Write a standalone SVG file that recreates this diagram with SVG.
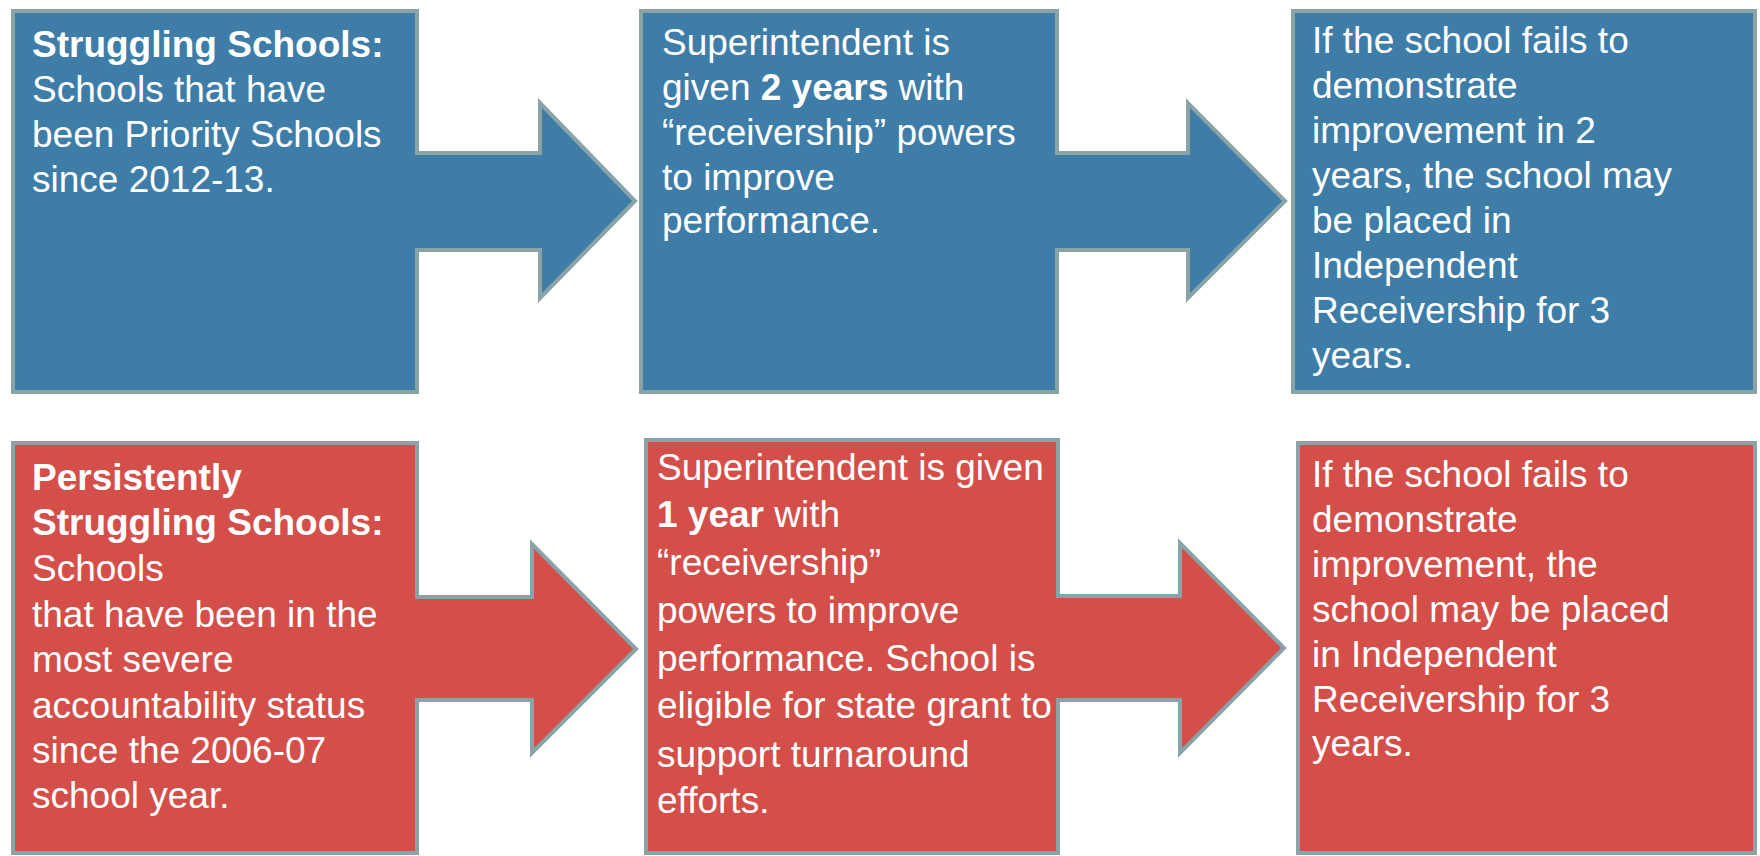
<svg xmlns="http://www.w3.org/2000/svg" width="1760" height="856" viewBox="0 0 1760 856">
<style>
.blue{fill:#3e7da8}
.red{fill:#d44f4a}
.box{stroke:#88a4a7;stroke-width:4}
.edge{fill:none;stroke:#88a4a7;stroke-width:4;stroke-linejoin:miter}
text{font-family:"Liberation Sans",Arial,sans-serif;font-size:37px;fill:#ffffff}
.b{font-weight:bold}
</style>
<rect width="1760" height="856" fill="#ffffff"/>
<g id="n1"><rect class="box blue" x="13" y="11" width="404" height="381"/>
<text x="32" y="57"><tspan class="b">Struggling Schools:</tspan></text>
<text x="32" y="102">Schools that have</text>
<text x="32" y="147">been Priority Schools</text>
<text x="32" y="192">since 2012-13.</text></g>
<g id="n2"><rect class="box blue" x="641" y="11" width="416" height="381"/>
<text x="662" y="55">Superintendent is</text>
<text x="662" y="100">given <tspan class="b">2 years</tspan> with</text>
<text x="662" y="145">“receivership” powers</text>
<text x="662" y="190">to improve</text>
<text x="662" y="233">performance.</text></g>
<g id="n3"><rect class="box blue" x="1293" y="11" width="462" height="381"/>
<text x="1312" y="53">If the school fails to</text>
<text x="1312" y="98">demonstrate</text>
<text x="1312" y="143">improvement in 2</text>
<text x="1312" y="188">years, the school may</text>
<text x="1312" y="233">be placed in</text>
<text x="1312" y="278">Independent</text>
<text x="1312" y="323">Receivership for 3</text>
<text x="1312" y="368">years.</text></g>
<g id="n4"><rect class="box red" x="13" y="443" width="404" height="410"/>
<text x="32" y="490" class="b">Persistently</text>
<text x="32" y="535" class="b">Struggling Schools:</text>
<text x="32" y="581">Schools</text>
<text x="32" y="627">that have been in the</text>
<text x="32" y="672">most severe</text>
<text x="32" y="718">accountability status</text>
<text x="32" y="763">since the 2006-07</text>
<text x="32" y="808">school year.</text></g>
<g id="n5"><rect class="box red" x="646" y="440" width="412" height="413"/>
<text x="657" y="480">Superintendent is given</text>
<text x="657" y="527"><tspan class="b">1 year</tspan> with</text>
<text x="657" y="575">“receivership”</text>
<text x="657" y="623">powers to improve</text>
<text x="657" y="671">performance. School is</text>
<text x="657" y="718">eligible for state grant to</text>
<text x="657" y="767">support turnaround</text>
<text x="657" y="813">efforts.</text></g>
<g id="n6"><rect class="box red" x="1298" y="443" width="457" height="410"/>
<text x="1312" y="487">If the school fails to</text>
<text x="1312" y="532">demonstrate</text>
<text x="1312" y="577">improvement, the</text>
<text x="1312" y="622">school may be placed</text>
<text x="1312" y="667">in Independent</text>
<text x="1312" y="712">Receivership for 3</text>
<text x="1312" y="756">years.</text></g>
<g id="connectors">
<path class="blue" d="M410,153 L540,153 L540,103 L635,201 L540,298 L540,250 L410,250 Z"/>
<polyline class="edge" points="415,153 540,153 540,103 635,201 540,298 540,250 415,250"/>
<path class="blue" d="M1050,153 L1188,153 L1188,103 L1285,201 L1188,298 L1188,250 L1050,250 Z"/>
<polyline class="edge" points="1055,153 1188,153 1188,103 1285,201 1188,298 1188,250 1055,250"/>
<path class="red" d="M410,597 L532,597 L532,544 L636,649 L532,753 L532,700 L410,700 Z"/>
<polyline class="edge" points="415,597 532,597 532,544 636,649 532,753 532,700 415,700"/>
<path class="red" d="M1050,596 L1180,596 L1180,543 L1284,648 L1180,753 L1180,700 L1050,700 Z"/>
<polyline class="edge" points="1056,596 1180,596 1180,543 1284,648 1180,753 1180,700 1056,700"/>
</g>
</svg>
